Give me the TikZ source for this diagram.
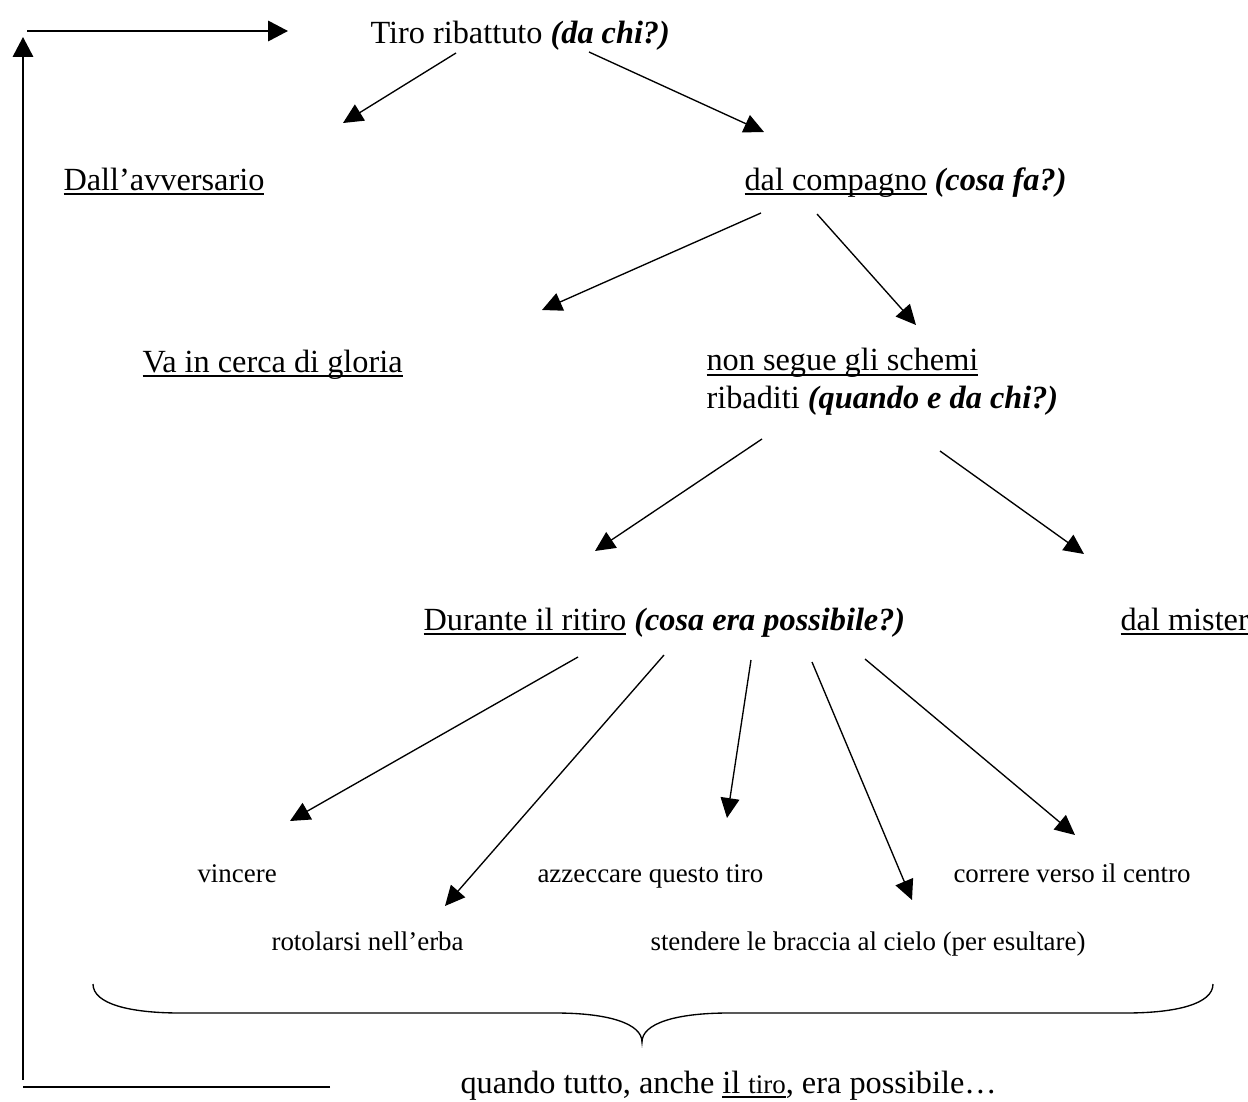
\documentclass[tikz,border=0pt]{standalone}
\usepackage{fontspec}
\setmainfont{Liberation Serif}
\usepackage{tikz}
\usetikzlibrary{arrows.meta}
\newcommand{\ul}[1]{\setbox0\hbox{#1}\rlap{\rule[-1.75pt]{\wd0}{0.5pt}}\box0\relax}
\newcommand{\domanda}[1]{\textbf{\textit{#1}}}

\begin{document}
\begin{tikzpicture}[
    x=0.3715pt, y=-0.3715pt,
    lab/.style={anchor=base west, inner sep=0pt, align=left, font=\fontsize{12}{13.8}\selectfont},
    smalllab/.style={anchor=base west, inner sep=0pt, font=\fontsize{10}{12}\selectfont},
    arrow/.style={-{Triangle[length=7.4pt,width=7pt]}, line width=0.5pt},
    loopline/.style={line width=0.65pt},
    looparrow/.style={loopline, -{Triangle[length=7.4pt,width=7.6pt]}}
]
\useasboundingbox (0,0) rectangle (1248,1102);

\node[lab] (tiro) at (370,44) {Tiro ribattuto \domanda{(da chi?)}};
\node[lab] (avv) at (63,190) {\ul{Dall’avversario}};
\node[lab] (comp) at (744,190) {\ul{dal compagno} \domanda{(cosa fa?)}};
\node[lab] (gloria) at (142,372) {\ul{Va in cerca di gloria}};
\node[lab] (schemi) at (706,408) {\ul{non segue gli schemi}\\ribaditi \domanda{(quando e da chi?)}};
\node[lab] (ritiro) at (423,630) {\ul{Durante il ritiro} \domanda{(cosa era possibile?)}};
\node[lab] (mister) at (1120,630) {\ul{dal mister}};
\node[smalllab] (vinc) at (197,882) {vincere};
\node[smalllab] (azz) at (537,882) {azzeccare questo tiro};
\node[smalllab] (corr) at (953,882) {correre verso il centro};
\node[smalllab] (rot) at (271,950) {rotolarsi nell’erba};
\node[smalllab] (brac) at (650,950) {stendere le braccia al cielo (per esultare)};
\node[lab] (quando) at (460,1093) {quando tutto, anche \ul{il {\fontsize{10}{12}\selectfont tiro}}, era possibile…};

\draw[arrow] ([shift={(86,9)}]tiro.base west) -- ([shift={(280,-67)}]avv.base west);
\draw[arrow] ([shift={(219,8)}]tiro.base west) -- ([shift={(20,-58)}]comp.base west);
\draw[arrow] ([shift={(17,23)}]comp.base west) -- ([shift={(400,-62)}]gloria.base west);
\draw[arrow] ([shift={(73,24)}]comp.base west) -- ([shift={(210,-83)}]schemi.base west);
\draw[arrow] ([shift={(56,31)}]schemi.base west) -- ([shift={(172,-79)}]ritiro.base west);
\draw[arrow] ([shift={(234,43)}]schemi.base west) -- ([shift={(-36,-76)}]mister.base west);
\draw[arrow] ([shift={(155,27)}]ritiro.base west) -- ([shift={(93,-61)}]vinc.base west);
\draw[arrow] ([shift={(241,25)}]ritiro.base west) -- ([shift={(174,-44)}]rot.base west);
\draw[arrow] ([shift={(328,30)}]ritiro.base west) -- ([shift={(190,-64)}]azz.base west);
\draw[arrow] ([shift={(389,32)}]ritiro.base west) -- ([shift={(262,-50)}]brac.base west);
\draw[arrow] ([shift={(442,29)}]ritiro.base west) -- ([shift={(122,-47)}]corr.base west);

% graffa sopra la conclusione
\draw[line width=0.5pt] (93,984) .. controls (93,1004) and (130,1013) .. (180,1013)
    -- (555,1013) .. controls (610,1013) and (642,1024) .. (642,1042)
    .. controls (642,1024) and (674,1013) .. (729,1013)
    -- (1126,1013) .. controls (1176,1013) and (1213,1004) .. (1213,984);

% ritorno all'inizio
\coordinate (bl) at (23,1087);
\coordinate (tl) at (23,31);
\draw[loopline] ([shift={(-130,-6)}]quando.base west) -- (bl);
\draw[looparrow] ([shift={(0,-7)}]bl) -- ([shift={(0,6)}]tl);
\draw[looparrow] ([shift={(4,0)}]tl) -- ([shift={(-82,-13)}]tiro.base west);
\end{tikzpicture}
\end{document}
